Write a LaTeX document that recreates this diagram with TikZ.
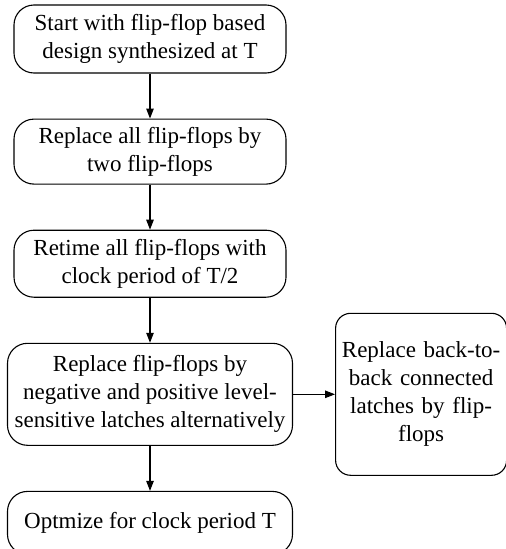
\documentclass[tikz,border=0pt]{standalone}
\usepackage{fontspec}
\setmainfont{Liberation Serif}
\usetikzlibrary{shapes, arrows.meta, positioning, calc}

\begin{document}
\begin{tikzpicture}[node distance=45pt, auto, >=stealth]
    % Styles
    \tikzstyle{stepbox} = [rectangle, draw, rounded corners=20pt, line width=1.1pt, minimum width=272pt, align=center, inner sep=2pt, font=\fontsize{23}{28}\selectfont]
    \tikzstyle{widebox} = [stepbox, minimum width=285pt]
    \tikzstyle{sidebox} = [stepbox, rounded corners=15pt, minimum width=171pt, minimum height=162pt, text width=160pt]
    \tikzstyle{arrow} = [draw, -{Triangle[length=10pt, width=7.5pt]}, line width=1.1pt]

    \useasboundingbox (0,0) rectangle (506pt,-549pt);

    % Nodes
    \node[stepbox, minimum height=68pt] (start) at (150pt,-39pt) {Start with flip-flop based\\design synthesized at T};
    \node[stepbox, minimum height=65pt, below=of start] (replace) {Replace all flip-flops by\\two flip-flops};
    \node[stepbox, minimum height=67pt, below=of replace] (retime) {Retime all flip-flops with\\clock period of T/2};
    \node[widebox, minimum height=102pt, below=of retime] (latches) {Replace flip-flops by\\negative and positive level-\\sensitive latches alternatively};
    \node[sidebox, right=42pt of latches] (backtoback) {Replace back-to-\\back connected\\latches by flip-\\flops};
    \node[widebox, minimum height=63pt, below=of latches] (optimize) {Optmize for clock period T};

    % Edges
    \draw[arrow] (start) -- (replace);
    \draw[arrow] (replace) -- (retime);
    \draw[arrow] (retime) -- (latches);
    \draw[arrow] (latches) -- (backtoback);
    \draw[arrow] (latches) -- (optimize);

\end{tikzpicture}
\end{document}
